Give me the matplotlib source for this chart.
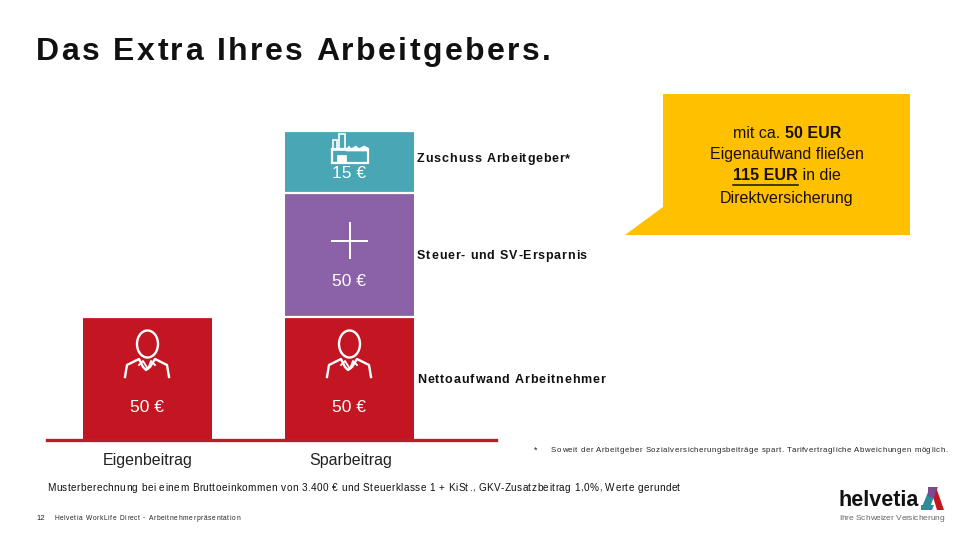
import matplotlib
matplotlib.use("Agg")
import matplotlib.pyplot as plt
from matplotlib.patches import Polygon, Ellipse, Rectangle

plt.rcParams['font.family'] = ['Liberation Sans', 'DejaVu Sans']

categories = ["Eigenbeitrag", "Sparbeitrag"]
segment_names = ["Nettoaufwand Arbeitnehmer", "Steuer- und SV-Ersparnis", "Zuschuss Arbeitgeber*"]
amounts_eigen = [50]
amounts_spar = [50, 50, 15]
# the source draws the 15 EUR block larger than its value: drawn heights in chart units
drawn_eigen = [50]
drawn_spar = [50, 50, 25]
colors = ["#C31622", "#8B62A8", "#48A6B5"]
title = "Das Extra Ihres Arbeitgebers."
note = "Musterberechnung bei einem Bruttoeinkommen von 3.400 € und Steuerklasse 1 + KiSt., GKV-Zusatzbeitrag 1,0%, Werte gerundet"
footnote = "Soweit der Arbeitgeber Sozialversicherungsbeiträge spart. Tarifvertragliche Abweichungen möglich."
footer = "Helvetia WorkLife Direct - Arbeitnehmerpräsentation"
page = "12"

W, H = 980, 544
fig = plt.figure(figsize=(W/100, H/100), dpi=100, facecolor="white")

# chart axes
ax = fig.add_axes([47/W, 1-440/H, (496-47)/W, (440-120)/H])
ax.set_xlim(-0.4975, 1.7252)
ax.set_ylim(0, 320/2.47)
for s in ["top", "left", "right"]:
    ax.spines[s].set_visible(False)
ax.spines["bottom"].set_color("#B5202E")
ax.spines["bottom"].set_linewidth(2.4)
ax.set_yticks([])
ax.set_xticks([])
for i, (drawn) in enumerate([drawn_eigen, drawn_spar]):
    bottom = 0
    for j, h in enumerate(drawn):
        ax.bar(i, h, 0.64, bottom=bottom, color=colors[j], edgecolor="white", linewidth=0 , zorder=2)
        ax.plot([i-0.32, i+0.32], [bottom+h]*2, color="white", lw=1.6, zorder=3, solid_capstyle="butt")
        bottom += h

# overlay in pixels
ov = fig.add_axes([0, 0, 1, 1], zorder=5)
ov.set_xlim(0, W); ov.set_ylim(H, 0); ov.axis("off"); ov.patch.set_alpha(0)
R = fig.canvas.get_renderer()

def spaced(x, y, s, size, weight="normal", color="black", target=None, gap=0.0, ha="left"):
    """draw string char by char so that it spans a given pixel width"""
    t = ov.text(x, y, s, fontsize=size, fontweight=weight, color=color, va="center", ha=ha, zorder=6)
    if target is None:
        return t
    w = t.get_window_extent(R).width
    t.remove()
    extra = (target - w) / max(len(s)-1, 1)
    cx = x
    prefix_w = lambda p: ov.text(0, 0, p, fontsize=size, fontweight=weight).get_window_extent(R).width
    for i, c in enumerate(s):
        if i:
            tmp = ov.text(0, 0, s[:i] + "|", fontsize=size, fontweight=weight)
            bar = ov.text(0, 0, "|", fontsize=size, fontweight=weight)
            cx = x + tmp.get_window_extent(R).width - bar.get_window_extent(R).width + extra*i
            tmp.remove(); bar.remove()
        ov.text(cx, y, c, fontsize=size, fontweight=weight, color=color, va="center", ha="left", zorder=6)

spaced(36, 52, title, 23, "bold", "#111111", target=515)

# category labels
ov.text(147.5, 461, categories[0], fontsize=11.5, ha="center", va="center", color="#222222")
ov.text(350.5, 461, categories[1], fontsize=11.5, ha="center", va="center", color="#222222")

# value labels
ov.text(147, 407, f"{amounts_eigen[0]} €", fontsize=12.5, ha="center", va="center", color="white")
ov.text(349, 407, f"{amounts_spar[0]} €", fontsize=12.5, ha="center", va="center", color="white")
ov.text(349, 282, f"{amounts_spar[1]} €", fontsize=12.5, ha="center", va="center", color="white")
ov.text(349, 174, f"{amounts_spar[2]} €", fontsize=12.5, ha="center", va="center", color="white")

# segment labels
spaced(417, 159, segment_names[2], 9, "bold", "#111111", target=153)
spaced(417, 256, segment_names[1], 9, "bold", "#111111", target=170)
spaced(417, 380, segment_names[0], 9, "bold", "#111111", target=188)

# person icon
def person(cx):
    ov.add_patch(Ellipse((cx+0.5, 344), 21, 27, fill=False, ec="white", lw=1.7, zorder=6))
    ov.plot([cx-22, cx-20, cx-8, cx-4, cx-1, cx+3, cx+8, cx+20, cx+22],
            [377, 365, 359, 367, 370, 367, 359, 365, 377][:9], color="white", lw=1.7, zorder=6)
    ov.plot([cx-8, cx-4, cx+1, cx+4, cx+8], [365, 361, 369, 361, 365], color="white", lw=1.3, zorder=6)
person(147); person(349)

# plus icon
ov.plot([349.5, 349.5], [223, 258], color="white", lw=1.4, zorder=6)
ov.plot([332, 367], [241, 241], color="white", lw=1.4, zorder=6)

# factory icon
ov.plot([333, 333, 338, 338, 333], [163, 140, 140, 163, 163], color="white", lw=0)
fx = [332, 332, 368, 368, 359, 359, 352, 352, 345, 345, 332]
fy = [163, 150, 150, 163, 163, 163, 163, 163, 163, 163, 163]
ov.add_patch(Rectangle((332, 149), 36, 14, fill=False, ec="white", lw=1.6, zorder=6))
ov.add_patch(Polygon([[346, 150], [349, 146], [351, 149], [356, 146], [359, 149], [364, 146], [368, 148], [368, 151], [346, 151]],
                     fc="white", ec="white", lw=0.5, zorder=6))
ov.add_patch(Rectangle((337, 155), 9, 8, fc="white", ec="white", lw=0.5, zorder=6))
ov.add_patch(Rectangle((332.5, 140), 4, 10, fill=False, ec="white", lw=1.2, zorder=6))
ov.add_patch(Rectangle((339, 134), 6, 16, fill=False, ec="white", lw=1.2, zorder=6))

# callout
ov.add_patch(Polygon([[663, 94], [910, 94], [910, 235], [625, 235], [663, 207]], fc="#FFC000", ec="none", zorder=4))

def runs(cy, parts, cx=787, size=11.5):
    ws = []
    for s, b, _ in parts:
        t = ov.text(0, 0, s, fontsize=size, fontweight="bold" if b else "normal")
        ws.append(t.get_window_extent(R).width); t.remove()
    x = cx - sum(ws)/2
    for (s, b, u), w in zip(parts, ws):
        ov.text(x, cy, s, fontsize=size, fontweight="bold" if b else "normal", va="center", ha="left", color="#1a1000", zorder=6)
        if u:
            ov.plot([x, x+w], [cy+9, cy+9], color="#1a1000", lw=1.1, zorder=6)
        x += w

runs(133, [("mit ca. ", False, False), ("50 EUR", True, False)])
runs(155, [("Eigenaufwand fließen", False, False)])
runs(176, [("115 EUR", True, True), (" in die", False, False)])
runs(198, [("Direktversicherung", False, False)])

# footnote, note, footer
ov.text(536, 450, "*", fontsize=6.5, ha="center", va="center", color="#222222")
spaced(551, 451, footnote, 5.6, color="#222222", target=396)
spaced(47, 488, note, 7.2, color="#111111", target=633)
ov.text(36, 518, page, fontsize=5.5, va="center", color="#222222")
spaced(54, 518, footer, 4.8, color="#222222", target=186)

# logo
ov.text(838, 500, "helvetia", fontsize=15.5, fontweight="bold", va="center", ha="left", color="#111111")
ov.add_patch(Polygon([[922, 507], [930, 487], [938, 487], [930, 507]], fc="#2E8C9A", ec="none", zorder=6))
ov.add_patch(Polygon([[930, 487], [936, 487], [944, 510], [937, 510]], fc="#C31622", ec="none", zorder=7))
ov.add_patch(Polygon([[928, 487], [937, 487], [934, 498], [928, 496]], fc="#7A4A92", ec="none", zorder=8))
ov.add_patch(Polygon([[921, 505], [934, 505], [932, 510], [921, 510]], fc="#2E8C9A", ec="none", zorder=6))
spaced(839, 519, "Ihre Schweizer Versicherung", 6, color="#666666", target=105)

fig.savefig("out.png", dpi=100, facecolor="white")
